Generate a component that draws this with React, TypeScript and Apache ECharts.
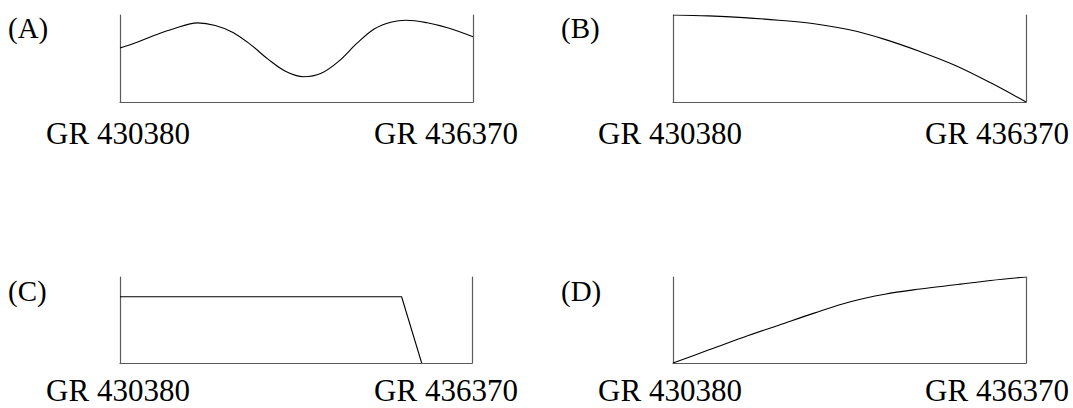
import React, { useEffect, useRef } from "react";
import * as echarts from "echarts";

const panelNames = ["(A)", "(B)", "(C)", "(D)"];
const tickLabels = ["GR 430380", "GR 436370"];

const aX = [0, 0.05, 0.1, 0.15, 0.22, 0.27, 0.32, 0.37, 0.42, 0.47, 0.52, 0.57, 0.62, 0.67, 0.72, 0.77, 0.81, 0.87, 0.93, 1.0];
const aY = [0.62, 0.69, 0.77, 0.84, 0.91, 0.88, 0.8, 0.66, 0.49, 0.35, 0.29, 0.33, 0.47, 0.67, 0.84, 0.92, 0.94, 0.91, 0.85, 0.75];

const bX = [0, 0.1, 0.2, 0.3, 0.4, 0.5, 0.6, 0.7, 0.8, 0.9, 1.0];
const bY = [1.0, 0.99, 0.97, 0.94, 0.9, 0.83, 0.72, 0.58, 0.42, 0.22, 0.0];

const cX = [0, 0.8, 0.857];
const cY = [0.77, 0.77, 0.0];

const dX = [0, 0.1, 0.2, 0.3, 0.4, 0.5, 0.6, 0.7, 0.8, 0.9, 1.0];
const dY = [0, 0.15, 0.3, 0.44, 0.58, 0.71, 0.8, 0.86, 0.91, 0.96, 1.0];

const seriesX = [aX, bX, cX, dX];
const seriesY = [aY, bY, cY, dY];
const smoothFlags = [true, true, false, true];

export default function App() {
  const ref = useRef<HTMLDivElement>(null);
  useEffect(() => {
    document.body.style.margin = "0";
    const chart = echarts.init(ref.current!, null, { renderer: "svg" });
    const grids = [
      { left: 120, top: 15, width: 353, height: 87 },
      { left: 673, top: 15, width: 353, height: 87 },
      { left: 120, top: 277, width: 352, height: 86 },
      { left: 673, top: 277, width: 353, height: 86 },
    ];
    const axisColor = "#5a5a5a";
    const font = "'Liberation Serif', 'Times New Roman', serif";
    const xAxis: any[] = [];
    const yAxis: any[] = [];
    const series: any[] = [];
    grids.forEach((g, i) => {
      xAxis.push({
        type: "value", gridIndex: i, min: 0, max: 1,
        axisLine: { show: true, onZero: false, lineStyle: { color: axisColor, width: 1.2 } },
        axisTick: { show: false }, axisLabel: { show: false }, splitLine: { show: false },
      });
      ["left", "right"].forEach((pos) => {
        yAxis.push({
          type: "value", gridIndex: i, min: 0, max: 1, position: pos,
          axisLine: { show: true, onZero: false, lineStyle: { color: axisColor, width: 1.2 } },
          axisTick: { show: false }, axisLabel: { show: false }, splitLine: { show: false },
        });
      });
      series.push({
        type: "line", xAxisIndex: i, yAxisIndex: i * 2,
        data: seriesX[i].map((x, k) => [x, seriesY[i][k]]),
        smooth: smoothFlags[i] ? 0.35 : false,
        symbol: "none",
        lineStyle: { color: "#000", width: 1.1 },
      });
    });
    const graphic: any[] = [];
    const panelPos = [[8, 28], [561, 28], [8, 291], [561, 291]];
    panelPos.forEach((p, i) => {
      graphic.push({
        type: "text", x: p[0], y: p[1],
        style: { text: panelNames[i], font: `29px ${font}`, fill: "#000", verticalAlign: "middle" },
      });
    });
    const labelRows = [133.5, 390];
    const labelCols = [[118, 446], [670, 997]];
    labelRows.forEach((y) => {
      labelCols.forEach((cols) => {
        cols.forEach((cx, j) => {
          graphic.push({
            type: "text", x: cx, y,
            style: { text: tickLabels[j], font: `31px ${font}`, fill: "#000", align: "center", verticalAlign: "middle" },
          });
        });
      });
    });
    chart.setOption({
      animation: false,
      backgroundColor: "#fff",
      grid: grids,
      xAxis, yAxis, series, graphic,
    });
    return () => chart.dispose();
  }, []);
  return <div ref={ref} style={{ width: 1073, height: 408 }} />;
}
